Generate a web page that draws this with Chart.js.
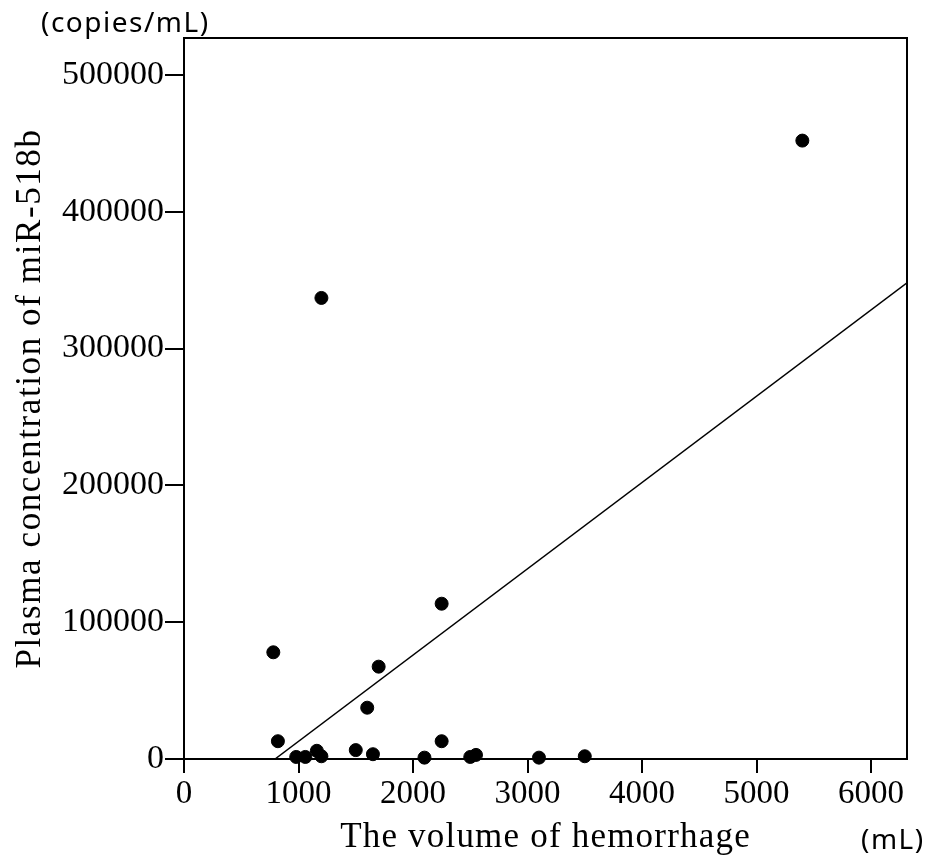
<!DOCTYPE html>
<html>
<head>
<meta charset="utf-8">
<script src="https://cdn.jsdelivr.net/npm/chart.js@4.4.1/dist/chart.umd.min.js"></script>
<style>
	body { margin: 0; background: #fff; }
	#wrap { width: 929px; height: 859px; position: relative; }
</style>
</head>
<body>
<div id="wrap"><canvas id="chart-hemorrhage"></canvas></div>
<script>
// volume of hemorrhage (mL) and plasma miR-518b (copies/mL) per patient
const volume = [780, 820, 980, 1060, 1160, 1200, 1200, 1500, 1600, 1650, 1700, 2100, 2250, 2250, 2500, 2550, 3100, 3500, 5400];
const concentration = [78000, 13000, 1500, 1500, 6000, 2000, 337000, 6500, 37500, 3500, 67500, 1000, 113500, 13000, 1500, 3000, 1000, 2000, 452000];

// regression line end points
const fitX = [795, 6314];
const fitY = [0, 348000];

// tick values shown on the axes
const xTicks = [0, 1000, 2000, 3000, 4000, 5000, 6000];
const yTicks = [0, 100000, 200000, 300000, 400000, 500000];

const xTitle = 'The volume of hemorrhage';
const yTitle = 'Plasma concentration of miR-518b';
const yUnit = '(copies/mL)';
const xUnit = '(mL)';

const serif = '"Liberation Serif", "DejaVu Serif", serif';
const sans = '"Noto Sans", "DejaVu Sans", sans-serif';

const points = volume.map((v, i) => ({ x: v, y: concentration[i] }));
const fitLine = fitX.map((v, i) => ({ x: v, y: fitY[i] }));

// top/right frame and the hand placed titles
const framePlugin = {
	id: 'frame',
	afterDraw(chart) {
		const ctx = chart.ctx;
		const a = chart.chartArea;
		ctx.save();
		ctx.strokeStyle = '#000';
		ctx.lineWidth = 2;
		ctx.beginPath();
		ctx.moveTo(a.left, a.top);
		ctx.lineTo(a.right, a.top);
		ctx.lineTo(a.right, a.bottom);
		ctx.stroke();

		ctx.fillStyle = '#000';
		ctx.font = '35px ' + serif;
		ctx.letterSpacing = '1.2px';
		ctx.textAlign = 'center';
		ctx.textBaseline = 'alphabetic';
		ctx.fillText(xTitle, (a.left + a.right) / 2, 847);

		ctx.save();
		ctx.translate(40, (a.top + a.bottom) / 2);
		ctx.rotate(-Math.PI / 2);
		ctx.letterSpacing = '1.6px';
		ctx.fillText(yTitle, 0, 0);
		ctx.restore();

		ctx.font = '28px ' + sans;
		ctx.letterSpacing = '1.5px';
		ctx.textAlign = 'left';
		ctx.fillText(yUnit, 41, 32);
		ctx.fillText(xUnit, 861, 849);
		ctx.restore();
	}
};

const plainLabel = function(value) { return String(value); };

const config = {
	type: 'scatter',
	data: {
		datasets: [{
			data: points,
			backgroundColor: '#000',
			borderColor: '#000',
			pointRadius: 6.5,
			clip: false
		}, {
			type: 'line',
			data: fitLine,
			borderColor: '#000',
			borderWidth: 1.5,
			pointRadius: 0,
			fill: false
		}]
	},
	options: {
		responsive: true,
		maintainAspectRatio: false,
		animation: false,
		layout: {
			padding: { top: 38, right: 22, left: 0, bottom: 0 }
		},
		plugins: {
			legend: { display: false },
			tooltip: { enabled: false }
		},
		scales: {
			x: {
				type: 'linear',
				min: 0,
				max: 6314,
				afterFit: function(scale) { scale.height = 100; },
				afterBuildTicks: function(scale) {
					scale.ticks = xTicks.map(v => ({ value: v }));
				},
				ticks: {
					color: '#000',
					padding: 2,
					maxRotation: 0,
					autoSkip: false,
					callback: plainLabel,
					font: { family: serif, size: 33 }
				},
				grid: {
					drawOnChartArea: false,
					drawTicks: true,
					tickLength: 14,
					color: '#000',
					lineWidth: 2
				},
				border: { display: true, color: '#000', width: 2 }
			},
			y: {
				type: 'linear',
				min: 0,
				max: 527000,
				afterFit: function(scale) { scale.width = 184; },
				afterBuildTicks: function(scale) {
					scale.ticks = yTicks.map(v => ({ value: v }));
				},
				ticks: {
					color: '#000',
					padding: 1,
					autoSkip: false,
					callback: plainLabel,
					font: { family: serif, size: 34 }
				},
				grid: {
					drawOnChartArea: false,
					drawTicks: true,
					tickLength: 19,
					color: '#000',
					lineWidth: 2
				},
				border: { display: true, color: '#000', width: 2 }
			}
		}
	},
	plugins: [framePlugin]
};

const ctx = document.getElementById('chart-hemorrhage').getContext('2d');
window.chartHemorrhage = new Chart(ctx, config);
</script>
</body>
</html>
